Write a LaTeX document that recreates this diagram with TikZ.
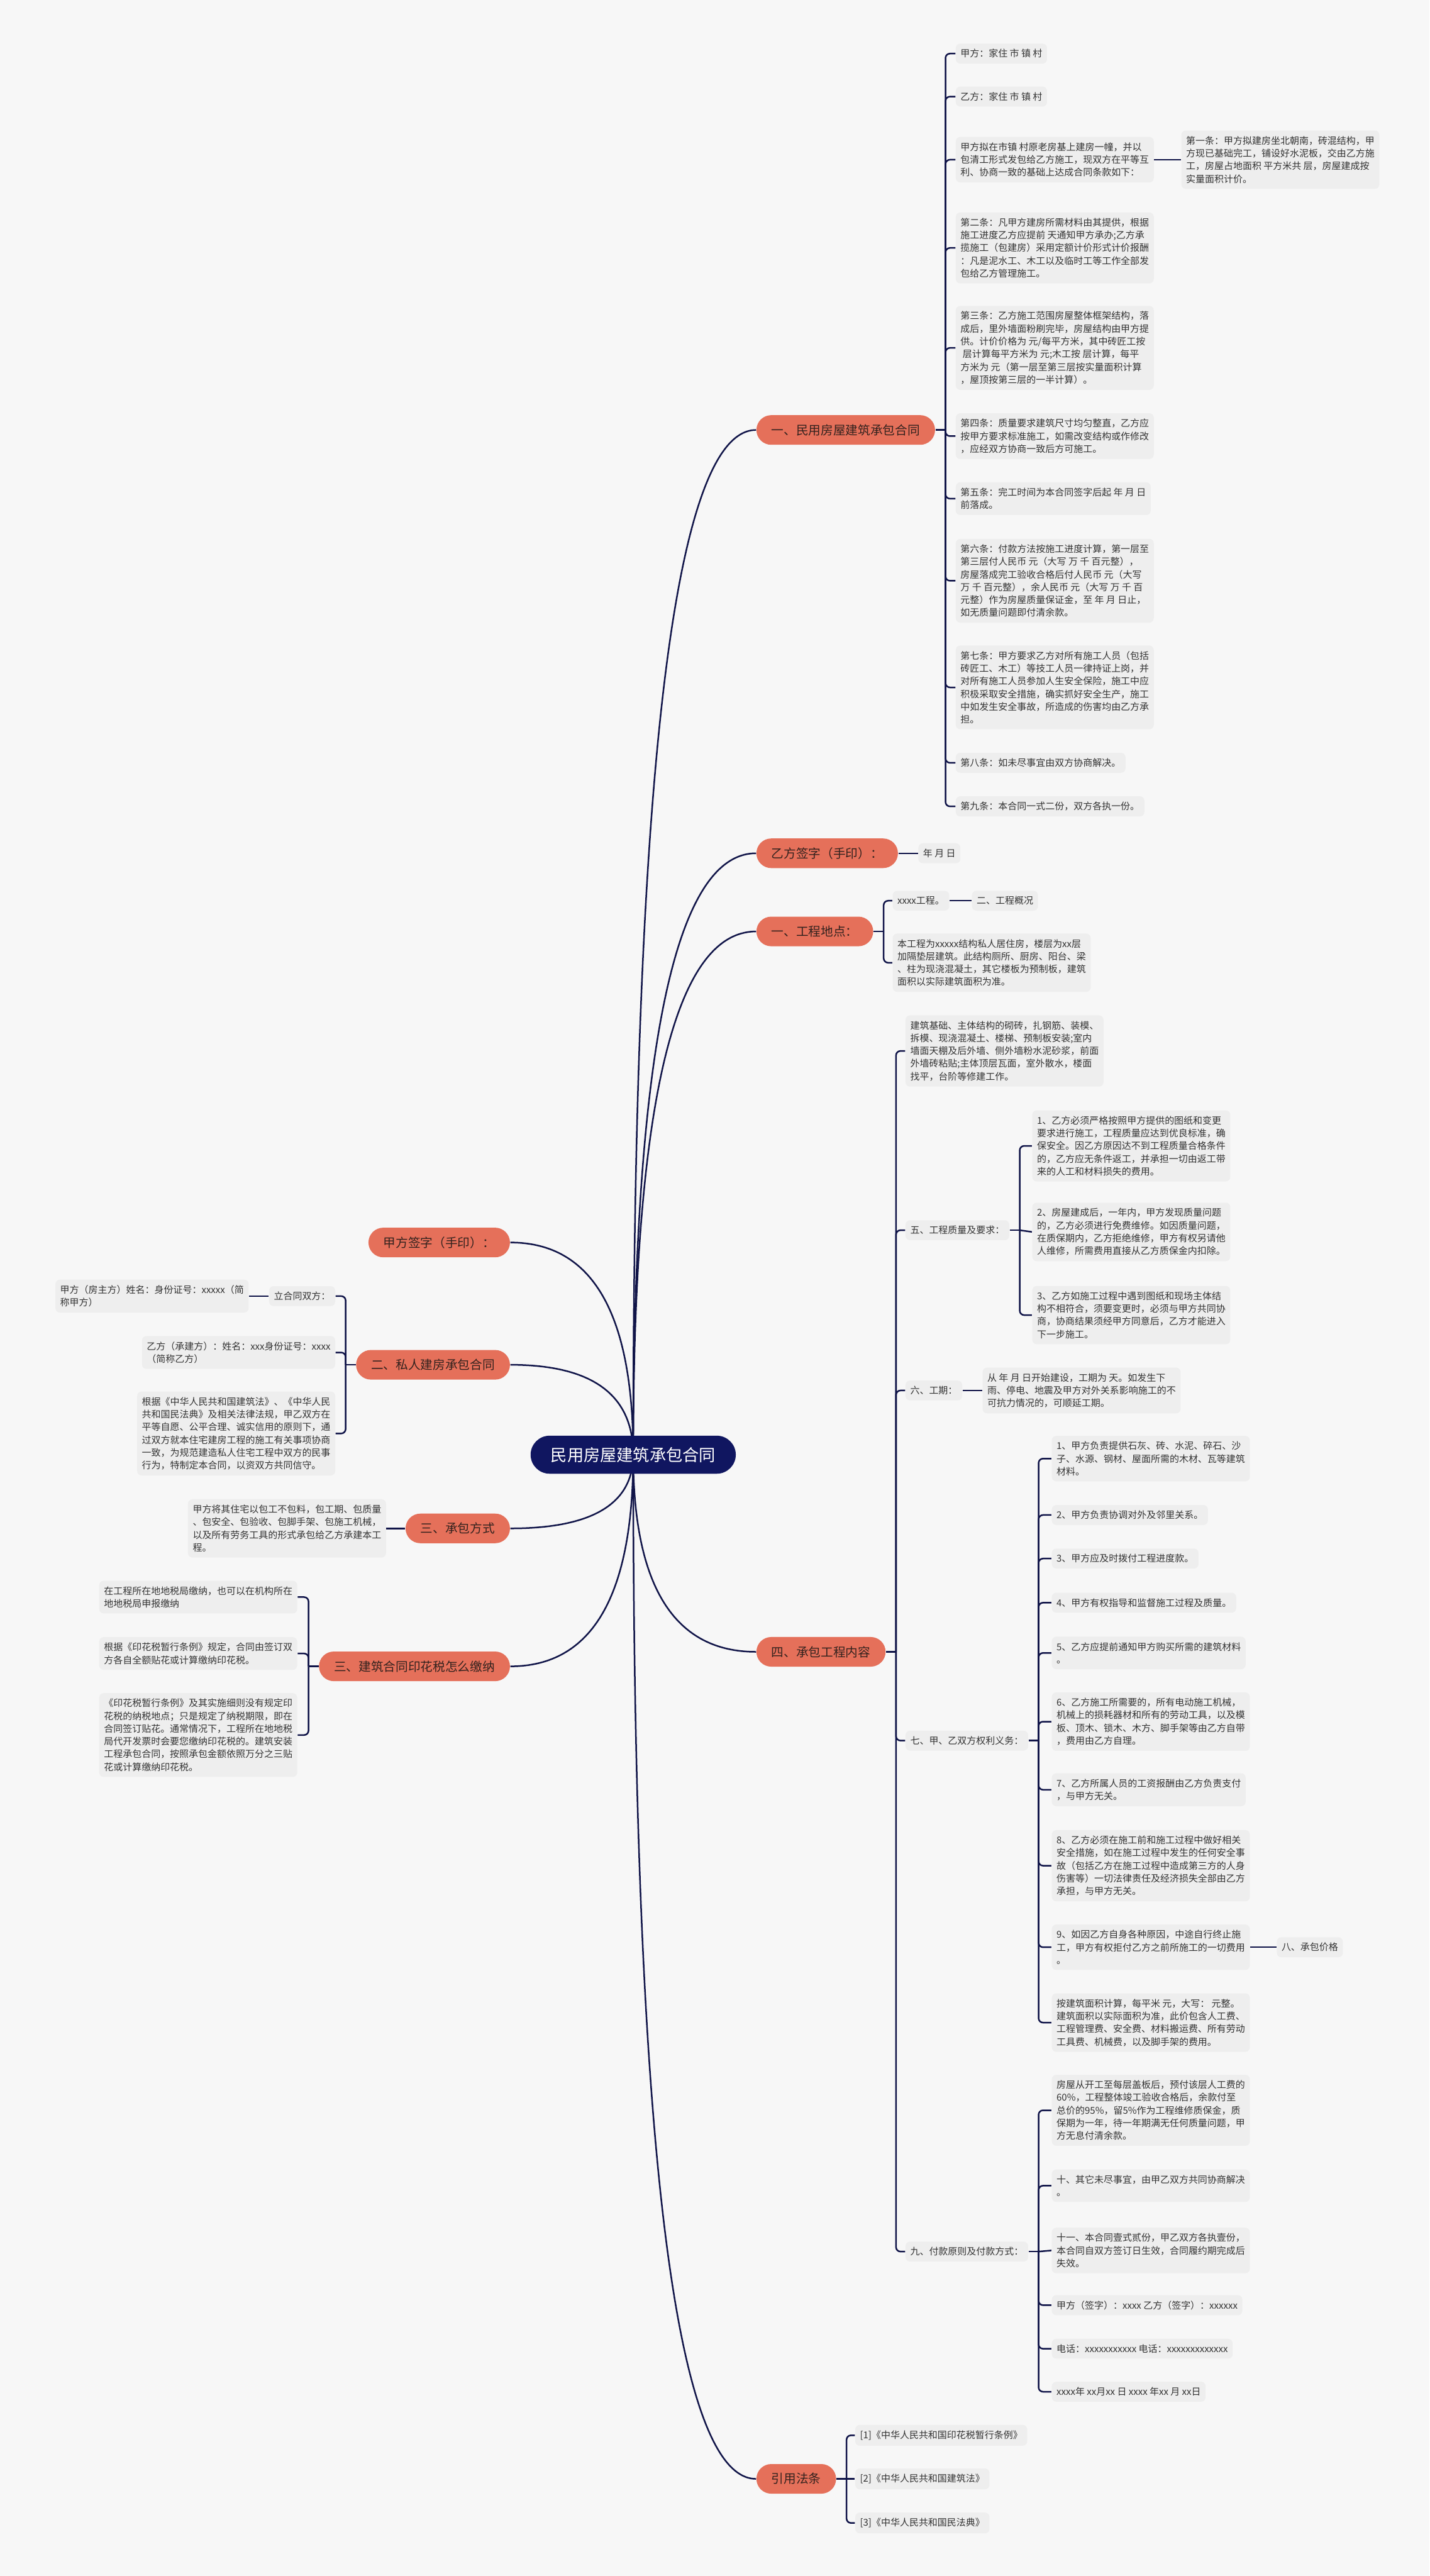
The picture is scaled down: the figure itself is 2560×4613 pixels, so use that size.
\documentclass[tikz,border=0pt]{standalone}
\usepackage{fontspec}
\setmainfont{Noto Sans CJK SC}
\usepackage{xcolor}
\usepackage{tikz}
\usetikzlibrary{calc,backgrounds}
\definecolor{paper}{RGB}{247,247,247}
\definecolor{hubnavy}{RGB}{16,22,96}
\definecolor{branchred}{RGB}{229,112,90}
\definecolor{branchink}{RGB}{51,34,30}
\definecolor{leafgray}{RGB}{238,238,238}
\definecolor{leafink}{RGB}{51,51,51}
\definecolor{wirenavy}{RGB}{16,20,72}

\begin{document}
\begin{tikzpicture}[x=0.01cm,y=-0.01cm,
  hubbox/.style={fill=hubnavy,text=white,font=\fontsize{8.4}{10}\selectfont,rounded corners=0.34cm,minimum height=0.68cm,inner xsep=0.36cm,inner ysep=0pt},
  topic/.style={fill=branchred,text=branchink,font=\fontsize{6.3}{8}\selectfont,rounded corners=0.265cm,minimum height=0.53cm,inner xsep=0.27cm,inner ysep=0pt},
  leaf/.style={fill=leafgray,text=leafink,font=\fontsize{4.8}{6.5}\selectfont,align=left,rounded corners=0.08cm,inner xsep=0.085cm,inner ysep=0.1cm},
  wire/.style={draw=wirenavy,line width=0.8pt},
  elbow/.style={wire,rounded corners=0.08cm}]
\useasboundingbox (0,0) rectangle (2560,4613);

% root
\node[hubbox] (hub) at (1134,2605) {民用房屋建筑承包合同};

% right topics
\node[topic,anchor=west] (b1) at (1354,770) {一、民用房屋建筑承包合同};
\node[topic,anchor=west] (b2) at (1354,1528) {乙方签字（手印）：};
\node[topic,anchor=west] (b3) at (1354,1668) {一、工程地点：};
\node[topic,anchor=west] (b4) at (1354,2958) {四、承包工程内容};
\node[topic,anchor=west] (b5) at (1354,4439) {引用法条};

% left topics
\node[topic,anchor=east] (l1) at (914,2225) {甲方签字（手印）：};
\node[topic,anchor=east] (l2) at (914,2444) {二、私人建房承包合同};
\node[topic,anchor=east] (l3) at (914,2737) {三、承包方式};
\node[topic,anchor=east] (l4) at (914,2984) {三、建筑合同印花税怎么缴纳};

% contract clauses
\node[leaf,anchor=west] (c1) at (1711,96) {甲方：家住 市 镇 村};
\node[leaf,anchor=west] (c2) at (1711,173) {乙方：家住 市 镇 村};
\node[leaf,anchor=west] (c3) at (1711,286) {甲方拟在市镇 村原老房基上建房一幢，并以\\包清工形式发包给乙方施工，现双方在平等互\\利、协商一致的基础上达成合同条款如下：};
\node[leaf,anchor=west] (k1) at (2115,286) {第一条：甲方拟建房坐北朝南，砖混结构，甲\\方现已基础完工，铺设好水泥板，交由乙方施\\工，房屋占地面积 平方米共 层，房屋建成按\\实量面积计价。};
\node[leaf,anchor=west] (c4) at (1711,444) {第二条：凡甲方建房所需材料由其提供，根据\\施工进度乙方应提前 天通知甲方承办;乙方承\\揽施工（包建房）采用定额计价形式计价报酬\\：凡是泥水工、木工以及临时工等工作全部发\\包给乙方管理施工。};
\node[leaf,anchor=west] (c5) at (1711,623) {第三条：乙方施工范围房屋整体框架结构，落\\成后，里外墙面粉刷完毕，房屋结构由甲方提\\供。计价价格为 元/每平方米，其中砖匠工按\\~层计算每平方米为 元;木工按 层计算，每平\\方米为 元（第一层至第三层按实量面积计算\\，屋顶按第三层的一半计算）。};
\node[leaf,anchor=west] (c6) at (1711,781) {第四条：质量要求建筑尺寸均匀整直，乙方应\\按甲方要求标准施工，如需改变结构或作修改\\，应经双方协商一致后方可施工。};
\node[leaf,anchor=west] (c7) at (1711,893) {第五条：完工时间为本合同签字后起 年 月 日\\前落成。};
\node[leaf,anchor=west] (c8) at (1711,1040) {第六条：付款方法按施工进度计算，第一层至\\第三层付人民币 元（大写 万 千 百元整），\\房屋落成完工验收合格后付人民币 元（大写\\万 千 百元整），余人民币 元（大写 万 千 百\\元整）作为房屋质量保证金，至 年 月 日止，\\如无质量问题即付清余款。};
\node[leaf,anchor=west] (c9) at (1711,1231) {第七条：甲方要求乙方对所有施工人员（包括\\砖匠工、木工）等技工人员一律持证上岗，并\\对所有施工人员参加人生安全保险，施工中应\\积极采取安全措施，确实抓好安全生产，施工\\中如发生安全事故，所造成的伤害均由乙方承\\担。};
\node[leaf,anchor=west] (c10) at (1711,1366) {第八条：如未尽事宜由双方协商解决。};
\node[leaf,anchor=west] (c11) at (1711,1444) {第九条：本合同一式二份，双方各执一份。};

% signature and site
\node[leaf,anchor=west] (b2a) at (1644,1528) {年 月 日};
\node[leaf,anchor=west] (g1) at (1598,1613) {xxxx工程。};
\node[leaf,anchor=west] (g1a) at (1740,1613) {二、工程概况};
\node[leaf,anchor=west] (g2) at (1598,1724) {本工程为xxxxx结构私人居住房，楼层为xx层\\加隔垫层建筑。此结构厕所、厨房、阳台、梁\\、柱为现浇混凝土，其它楼板为预制板，建筑\\面积以实际建筑面积为准。};

% works
\node[leaf,anchor=west] (d1) at (1621,1882) {建筑基础、主体结构的砌砖，扎钢筋、装模、\\拆模、现浇混凝土、楼梯、预制板安装;室内\\墙面天棚及后外墙、侧外墙粉水泥砂浆，前面\\外墙砖粘贴;主体顶层瓦面，室外散水，楼面\\找平，台阶等修建工作。};
\node[leaf,anchor=west] (d2) at (1621,2203) {五、工程质量及要求：};
\node[leaf,anchor=west] (e1) at (1848,2052) {1、乙方必须严格按照甲方提供的图纸和变更\\要求进行施工，工程质量应达到优良标准，确\\保安全。因乙方原因达不到工程质量合格条件\\的，乙方应无条件返工，并承担一切由返工带\\来的人工和材料损失的费用。};
\node[leaf,anchor=west] (e2) at (1848,2206) {2、房屋建成后，一年内，甲方发现质量问题\\的，乙方必须进行免费维修。如因质量问题，\\在质保期内，乙方拒绝维修，甲方有权另请他\\人维修，所需费用直接从乙方质保金内扣除。};
\node[leaf,anchor=west] (e3) at (1848,2355) {3、乙方如施工过程中遇到图纸和现场主体结\\构不相符合，须要变更时，必须与甲方共同协\\商，协商结果须经甲方同意后，乙方才能进入\\下一步施工。};
\node[leaf,anchor=west] (d3) at (1621,2490) {六、工期：};
\node[leaf,anchor=west] (d3a) at (1759,2490) {从 年 月 日开始建设，工期为 天。如发生下\\雨、停电、地震及甲方对外关系影响施工的不\\可抗力情况的，可顺延工期。};
\node[leaf,anchor=west] (d4) at (1621,3117) {七、甲、乙双方权利义务：};
\node[leaf,anchor=west] (f1) at (1883,2612) {1、甲方负责提供石灰、砖、水泥、碎石、沙\\子、水源、钢材、屋面所需的木材、瓦等建筑\\材料。};
\node[leaf,anchor=west] (f2) at (1883,2713) {2、甲方负责协调对外及邻里关系。};
\node[leaf,anchor=west] (f3) at (1883,2791) {3、甲方应及时拨付工程进度款。};
\node[leaf,anchor=west] (f4) at (1883,2870) {4、甲方有权指导和监督施工过程及质量。};
\node[leaf,anchor=west] (f5) at (1883,2960) {5、乙方应提前通知甲方购买所需的建筑材料\\。};
\node[leaf,anchor=west] (f6) at (1883,3083) {6、乙方施工所需要的，所有电动施工机械，\\机械上的损耗器材和所有的劳动工具，以及模\\板、顶木、锁木、木方、脚手架等由乙方自带\\，费用由乙方自理。};
\node[leaf,anchor=west] (f7) at (1883,3205) {7、乙方所属人员的工资报酬由乙方负责支付\\，与甲方无关。};
\node[leaf,anchor=west] (f8) at (1883,3341) {8、乙方必须在施工前和施工过程中做好相关\\安全措施，如在施工过程中发生的任何安全事\\故（包括乙方在施工过程中造成第三方的人身\\伤害等）一切法律责任及经济损失全部由乙方\\承担，与甲方无关。};
\node[leaf,anchor=west] (f9) at (1883,3487) {9、如因乙方自身各种原因，中途自行终止施\\工，甲方有权拒付乙方之前所施工的一切费用\\。};
\node[leaf,anchor=west] (f9a) at (2286,3487) {八、承包价格};
\node[leaf,anchor=west] (f10) at (1883,3622) {按建筑面积计算，每平米 元，大写： 元整。\\建筑面积以实际面积为准，此价包含人工费、\\工程管理费、安全费、材料搬运费、所有劳动\\工具费、机械费，以及脚手架的费用。};
\node[leaf,anchor=west] (d5) at (1621,4032) {九、付款原则及付款方式：};
\node[leaf,anchor=west] (p1) at (1883,3779) {房屋从开工至每层盖板后，预付该层人工费的\\60\%，工程整体竣工验收合格后，余款付至\\总价的95\%，留5\%作为工程维修质保金，质\\保期为一年，待一年期满无任何质量问题，甲\\方无息付清余款。};
\node[leaf,anchor=west] (p2) at (1883,3914) {十、其它未尽事宜，由甲乙双方共同协商解决\\。};
\node[leaf,anchor=west] (p3) at (1883,4030) {十一、本合同壹式贰份，甲乙双方各执壹份，\\本合同自双方签订日生效，合同履约期完成后\\失效。};
\node[leaf,anchor=west] (p4) at (1883,4128) {甲方（签字）：xxxx 乙方（签字）：xxxxxx};
\node[leaf,anchor=west] (p5) at (1883,4206) {电话：xxxxxxxxxxx 电话：xxxxxxxxxxxxx};
\node[leaf,anchor=west] (p6) at (1883,4283) {xxxx年 xx月xx 日 xxxx 年xx 月 xx日};

% laws
\node[leaf,anchor=west] (r1) at (1531,4361) {[1]《中华人民共和国印花税暂行条例》};
\node[leaf,anchor=west] (r2) at (1531,4439) {[2]《中华人民共和国建筑法》};
\node[leaf,anchor=west] (r3) at (1531,4518) {[3]《中华人民共和国民法典》};

% left leaves
\node[leaf,anchor=east] (m1) at (601,2321) {立合同双方：};
\node[leaf,anchor=east] (m1a) at (446,2321) {甲方（房主方）姓名：身份证号：xxxxx（简\\称甲方）};
\node[leaf,anchor=east] (m2) at (601,2422) {乙方（承建方）：姓名：xxx身份证号：xxxx\\（简称乙方）};
\node[leaf,anchor=east] (m3) at (601,2567) {根据《中华人民共和国建筑法》、《中华人民\\共和国民法典》及相关法律法规，甲乙双方在\\平等自愿、公平合理、诚实信用的原则下，通\\过双方就本住宅建房工程的施工有关事项协商\\一致，为规范建造私人住宅工程中双方的民事\\行为，特制定本合同，以资双方共同信守。};
\node[leaf,anchor=east] (l3a) at (692,2737) {甲方将其住宅以包工不包料，包工期、包质量\\、包安全、包验收、包脚手架、包施工机械，\\以及所有劳务工具的形式承包给乙方承建本工\\程。};
\node[leaf,anchor=east] (n1) at (533,2860) {在工程所在地地税局缴纳，也可以在机构所在\\地地税局申报缴纳};
\node[leaf,anchor=east] (n2) at (533,2961) {根据《印花税暂行条例》规定，合同由签订双\\方各自全额贴花或计算缴纳印花税。};
\node[leaf,anchor=east] (n3) at (533,3107) {《印花税暂行条例》及其实施细则没有规定印\\花税的纳税地点；只是规定了纳税期限，即在\\合同签订贴花。通常情况下，工程所在地地税\\局代开发票时会要您缴纳印花税的。建筑安装\\工程承包合同，按照承包金额依照万分之三贴\\花或计算缴纳印花税。};

\begin{scope}[on background layer]
\fill[paper] (0,0) rectangle (2560,4613);
% root to topics
\foreach \b in {b1,b2,b3,b4,b5}
  \draw[wire] (hub.center) .. controls ($(hub.center)!2/3!(hub.center |- \b.west)$) and ($(\b.west)!2/3!(hub.center |- \b.west)$) .. (\b.west);
\foreach \b in {l1,l2,l3,l4}
  \draw[wire] (hub.center) .. controls ($(hub.center)!2/3!(hub.center |- \b.east)$) and ($(\b.east)!2/3!(hub.center |- \b.east)$) .. (\b.east);
% brackets
\draw[wire] (b1.east) -- ++(18,0) coordinate (b1s);
\foreach \c in {c1,c2,c3,c4,c5,c6,c7,c8,c9,c10,c11}
  \draw[elbow] (b1s) |- (\c.west);
\draw[wire] (b3.east) -- ++(18,0) coordinate (b3s);
\foreach \c in {g1,g2}
  \draw[elbow] (b3s) |- (\c.west);
\draw[wire] (b4.east) -- ++(18,0) coordinate (b4s);
\foreach \c in {d1,d2,d3,d4,d5}
  \draw[elbow] (b4s) |- (\c.west);
\draw[wire] (d2.east) -- ++(18,0) coordinate (d2s);
\foreach \c in {e1,e3}
  \draw[elbow] (d2s) |- (\c.west);
\draw[wire] (d2s) -- (e2.west);
\draw[wire] (d4.east) -- ++(18,0) coordinate (d4s);
\foreach \c in {f1,f2,f3,f4,f5,f6,f7,f8,f9,f10}
  \draw[elbow] (d4s) |- (\c.west);
\draw[wire] (d5.east) -- ++(18,0) coordinate (d5s);
\foreach \c in {p1,p2,p4,p5,p6}
  \draw[elbow] (d5s) |- (\c.west);
\draw[wire] (d5s) -- (p3.west);
\draw[wire] (b5.east) -- ++(18,0) coordinate (b5s);
\foreach \c in {r1,r3}
  \draw[elbow] (b5s) |- (\c.west);
\draw[wire] (b5s) -- (r2.west);
\draw[wire] (l2.west) -- ++(-18,0) coordinate (l2s);
\foreach \c in {m1,m2,m3}
  \draw[elbow] (l2s) |- (\c.east);
\draw[wire] (l4.west) -- ++(-18,0) coordinate (l4s);
\foreach \c in {n1,n2,n3}
  \draw[elbow] (l4s) |- (\c.east);
% single links
\draw[wire] (c3.east) -- (k1.west);
\draw[wire] (b2.east) -- (b2a.west);
\draw[wire] (g1.east) -- (g1a.west);
\draw[wire] (d3.east) -- (d3a.west);
\draw[wire] (f9.east) -- (f9a.west);
\draw[wire] (m1.west) -- (m1a.east);
\draw[wire] (l3.west) -- (l3a.east);
\end{scope}
\end{tikzpicture}
\end{document}
